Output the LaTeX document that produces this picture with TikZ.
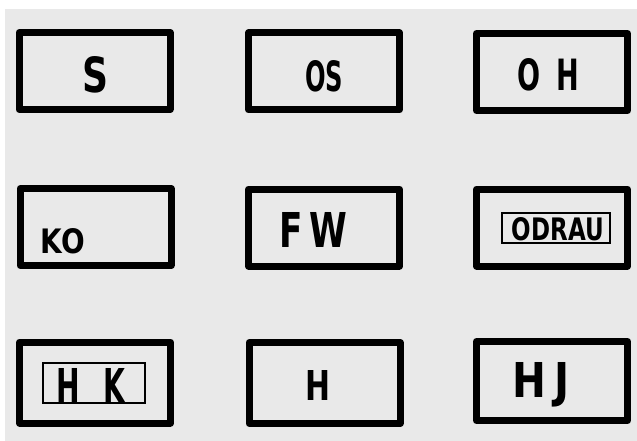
\documentclass[tikz,border=0pt]{standalone}
\usepackage{fontspec}
\setmainfont{DejaVu Sans}
\definecolor{paper}{HTML}{E9E9E9}
\newcommand{\lbl}[3]{\resizebox{#1pt}{#2pt}{\bfseries #3}}
\begin{document}
\begin{tikzpicture}[x=1pt,y=-1pt,
  frame/.style={draw=black,line width=7pt,line join=round,rectangle,inner sep=0pt,
    minimum width=151pt,minimum height=77pt},
  tallframe/.style={frame,minimum height=81pt},
  inbox/.style={draw=black,line width=2pt,rectangle,inner sep=0pt},
  txt/.style={inner sep=0pt,anchor=center}]
\useasboundingbox (0,0) rectangle (637,441);
\fill[white] (0,0) rectangle (637,441);
\fill[paper] (5,9) rectangle (637,441);
% row 1
\node[frame] (b11) at (94.5,71) {};
\node[frame] (b12) at (324,71.5) {};
\node[frame] (b13) at (552,72) {};
% row 2
\node[frame] (b21) at (95.5,227) {};
\node[frame] (b22) at (324,227.5) {};
\node[frame] (b23) at (552,227.5) {};
% row 3
\node[tallframe] (b31) at (95,382.5) {};
\node[tallframe] (b32) at (324.5,383) {};
\node[frame,minimum height=79pt] (b33) at (552,381) {};
% labels
\node[txt] (t11) at (96,75) {\lbl{26}{36}{S}};
\node[txt] (t12) at (324,76) {\lbl{38}{31}{OS}};
\node[txt] (t13) at (548,75) {\lbl{62}{32}{O\hspace{0.6em}H}};
\node[txt] (t21) at (63,241) {\lbl{44}{25}{KO}};
\node[txt] (t22) at (313,229.5) {\lbl{68}{35}{F\hspace{0.2em}W}};
\node[inbox,minimum width=108pt,minimum height=30pt] (i23) at (556,228) {};
\node[txt] (t23) at (558,229.5) {\lbl{92}{23}{ODRAU}};
\node[inbox,minimum width=102pt,minimum height=40pt] (i31) at (94,383) {};
\node[txt] (t31) at (91,385.5) {\lbl{68}{35}{H\hspace{0.8em}K}};
\node[txt] (t32) at (317.5,385) {\lbl{25}{30}{H}};
\node[txt] (t33) at (541.5,384.5) {\lbl{57}{35}{H\hspace{0.2em}J}};
\end{tikzpicture}
\end{document}
